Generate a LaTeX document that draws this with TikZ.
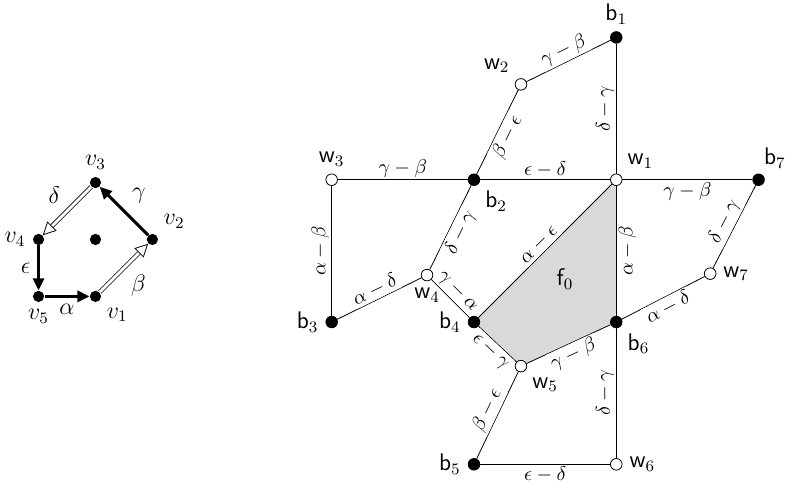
\documentclass[tikz,border=0pt]{standalone}
\usetikzlibrary{arrows.meta,backgrounds}
\tikzset{
  bv/.style={circle,fill=black,draw=black,inner sep=0pt,minimum size=5.8pt},
  wv/.style={circle,fill=white,draw=black,inner sep=0pt,minimum size=5.8pt},
  pv/.style={circle,fill=black,inner sep=0pt,minimum size=5.6pt},
  wt/.style={sloped,fill=white,inner sep=1pt},
  tarr/.style={line width=1.5pt,-{Triangle[length=6pt,width=5.5pt]}},
  darr/.style={double,double distance=1.4pt,-{Triangle[open,length=6.5pt,width=6.5pt]}},
  every label/.style={font=\large},
}
\def\bl#1{$\mathsf{b}_{#1}$}
\def\wl#1{$\mathsf{w}_{#1}$}

\begin{document}
\begin{tikzpicture}[x=2.5cm,y=2.5cm]
\useasboundingbox (-3.331,-1.138) rectangle (2.256,2.263);
% the pentagon
\node[pv,label=above:$v_3$] (v3) at (-2.66,0.98) {};
\node[pv,label=above right:$v_2$] (v2) at (-2.26,0.58) {};
\node[pv,label=below right:$v_1$] (v1) at (-2.66,0.18) {};
\node[pv,label=below:$v_5$] (v5) at (-3.06,0.18) {};
\node[pv,label=left:$v_4$] (v4) at (-3.06,0.58) {};
\node[pv] (vc) at (-2.66,0.58) {};
\begin{scope}[every node/.style={font=\large}]
\draw[darr] (v3) -- node[above left]{$\delta$} (v4);
\draw[tarr] (v2) -- node[above right]{$\gamma$} (v3);
\draw[tarr] (v4) -- node[left]{$\epsilon$} (v5);
\draw[tarr] (v5) -- node[below]{$\alpha$} (v1);
\draw[darr] (v1) -- node[below right]{$\beta$} (v2);
\end{scope}

% the tiling
\node[bv,label=above:\bl1] (b1) at (1,2) {};
\node[bv,label=below right:\bl2] (b2) at (0,1) {};
\node[bv,label=left:\bl3] (b3) at (-1,0) {};
\node[bv,label=left:\bl4] (b4) at (0,0) {};
\node[bv,label=left:\bl5] (b5) at (0,-1) {};
\node[bv,label=below right:\bl6] (b6) at (1,0) {};
\node[bv,label={[xshift=-3pt]above right:\bl7}] (b7) at (2,1) {};
\node[wv,label=above right:\wl1] (w1) at (1,1) {};
\node[wv,label=above left:\wl2] (w2) at (0.33,1.67) {};
\node[wv,label=above:\wl3] (w3) at (-1,1) {};
\node[wv,label=below:\wl4] (w4) at (-0.33,0.33) {};
\node[wv,label=below right:\wl5] (w5) at (0.33,-0.31) {};
\node[wv,label=right:\wl6] (w6) at (1,-1) {};
\node[wv,label=right:\wl7] (w7) at (1.66,0.34) {};
\node[font=\large] (f0) at (0.64,0.3) {$\mathsf{f}_0$};

\begin{scope}[on background layer]
  \fill[gray!30] (w1.center) -- (b4.center) -- (w5.center) -- (b6.center) -- cycle;
\end{scope}

\draw (w2) -- node[wt,above]{$\gamma-\beta$} (b1);
\draw (w1) -- node[wt,above]{$\delta-\gamma$} (b1);
\draw (b2) -- node[wt,below]{$\beta-\epsilon$} (w2);
\draw (w3) -- node[wt,above]{$\gamma-\beta$} (b2);
\draw (b2) -- node[wt,above]{$\epsilon-\delta$} (w1);
\draw (w1) -- node[wt,below]{$\gamma-\beta$} (b7);
\draw (b3) -- node[wt,above]{$\alpha-\beta$} (w3);
\draw (w4) -- node[wt,below]{$\delta-\gamma$} (b2);
\draw (b3) -- node[wt,above]{$\alpha-\delta$} (w4);
\draw (w4) -- node[wt,above]{$\gamma-\alpha$} (b4);
\draw (b4) -- node[wt,above]{$\alpha-\epsilon$} (w1);
\draw (b6) -- node[wt,below]{$\alpha-\beta$} (w1);
\draw (w7) -- node[wt,above]{$\delta-\gamma$} (b7);
\draw (b6) -- node[wt,below]{$\alpha-\delta$} (w7);
\draw (b4) -- node[wt,below]{$\epsilon-\gamma$} (w5);
\draw (w5) -- node[wt,below]{$\gamma-\beta$} (b6);
\draw (b5) -- node[wt,above]{$\beta-\epsilon$} (w5);
\draw (b5) -- node[wt,below]{$\epsilon-\delta$} (w6);
\draw (w6) -- node[wt,above]{$\delta-\gamma$} (b6);
\end{tikzpicture}
\end{document}
